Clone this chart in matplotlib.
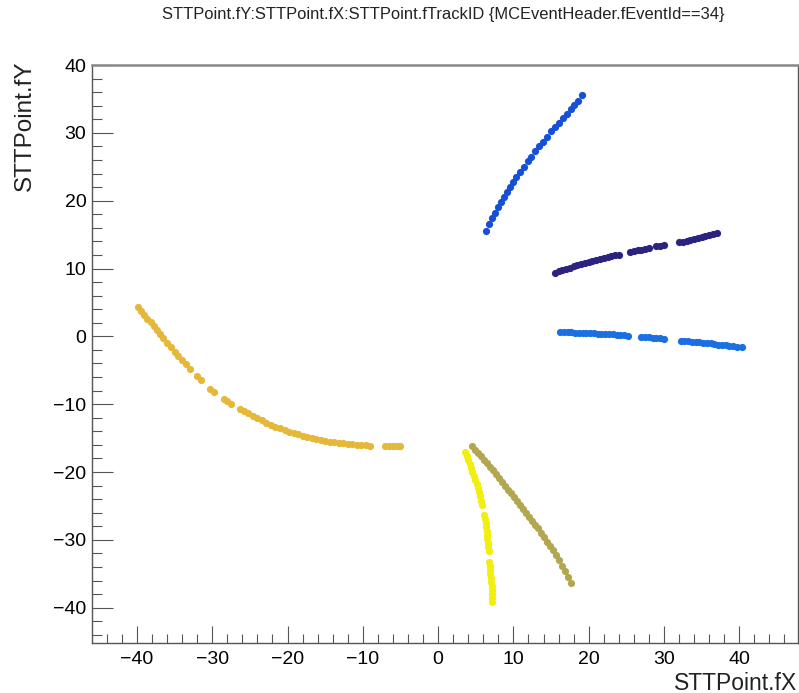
#!/usr/bin/python3

# STT hit positions of event 34, coloured by track id (ROOT-style scatter)

import matplotlib
matplotlib.use('Agg')
import matplotlib.pyplot as plt
from matplotlib.ticker import MultipleLocator

plt.rcParams['font.family'] = ['Liberation Sans', 'DejaVu Sans']

# track 1: steep blue arc, upper right
blue_x = [6.3, 6.7, 7.1, 7.5, 7.9, 8.3, 8.7, 9.1, 9.5, 10.0, 10.4, 10.9, 11.4, 11.9,
          12.4, 12.9, 13.4, 13.9, 14.4, 15.0, 15.5, 16.0, 16.6, 17.1, 17.6, 18.1, 18.6, 19.1]
blue_y = [15.6, 16.5, 17.4, 18.2, 19.0, 19.8, 20.6, 21.3, 22.0, 22.8, 23.5, 24.3, 25.0, 25.8,
          26.5, 27.3, 28.0, 28.7, 29.4, 30.2, 30.9, 31.5, 32.2, 32.8, 33.5, 34.1, 34.7, 35.6]

# track 2: navy, rising slowly
navy_x = [15.5, 16.0, 16.5, 17.0, 17.5, 18.0, 18.5, 19.0, 19.5, 20.0, 20.5, 21.0, 21.5, 22.0,
          22.5, 23.0, 23.5, 24.0, 25.5, 26.0, 26.5, 27.0, 27.5, 28.0, 29.0, 29.5, 30.0, 32.0,
          32.5, 33.0, 33.5, 34.0, 34.5, 35.0, 35.5, 36.0, 36.5, 37.0]
navy_y = [9.4, 9.6, 9.8, 10.0, 10.15, 10.3, 10.5, 10.65, 10.8, 11.0, 11.1, 11.25, 11.4, 11.55,
          11.7, 11.8, 11.95, 12.05, 12.45, 12.55, 12.7, 12.8, 12.9, 13.0, 13.25, 13.35, 13.45, 13.85,
          13.95, 14.05, 14.2, 14.3, 14.45, 14.6, 14.75, 14.9, 15.05, 15.25]

# track 3: light blue, near y = 0
lblue_x = [16.2, 16.7, 17.2, 17.7, 18.2, 18.7, 19.2, 19.7, 20.2, 20.7, 21.2, 21.7, 22.2, 22.7,
           23.2, 23.7, 24.2, 24.7, 25.2, 27.0, 27.5, 28.0, 28.5, 29.0, 29.5, 30.0, 32.2, 32.7,
           33.2, 33.7, 34.2, 34.7, 35.2, 35.7, 36.2, 36.7, 37.2, 37.7, 38.2, 38.7, 39.2, 39.7, 40.3]
lblue_y = [0.6, 0.6, 0.6, 0.6, 0.55, 0.55, 0.5, 0.5, 0.5, 0.45, 0.4, 0.4, 0.35, 0.3,
           0.3, 0.25, 0.2, 0.15, 0.1, -0.05, -0.1, -0.15, -0.2, -0.25, -0.3, -0.35, -0.65, -0.7,
           -0.75, -0.8, -0.85, -0.9, -0.95, -1.0, -1.05, -1.1, -1.2, -1.25, -1.3, -1.4, -1.45, -1.5, -1.6]

# track 4: gold, long curve on the left
gold_x = [-39.8, -39.4, -39.0, -38.6, -38.2, -37.8, -37.4, -37.0, -36.5, -36.0, -35.5, -35.0,
          -34.5, -34.0, -33.5, -33.0, -32.0, -31.5, -30.3, -29.8, -28.5, -28.0, -27.5, -26.3,
          -25.8, -25.3, -24.6, -24.0, -23.4, -22.8, -22.2, -21.6, -21.0, -20.4, -19.8, -19.2,
          -18.6, -18.0, -17.4, -16.8, -16.2, -15.6, -15.0, -14.4, -13.8, -13.2, -12.6, -12.0,
          -11.4, -10.8, -10.2, -9.6, -9.0, -7.0, -6.5, -6.0, -5.5, -5.0]
gold_y = [4.3, 3.74, 3.18, 2.62, 2.06, 1.5, 0.95, 0.41, -0.27, -0.95, -1.62, -2.27,
          -2.9, -3.52, -4.14, -4.76, -5.9, -6.45, -7.7, -8.2, -9.2, -9.55, -9.9, -10.7,
          -11.05, -11.35, -11.8, -12.1, -12.4, -12.7, -13.0, -13.3, -13.55, -13.8, -14.05, -14.25,
          -14.45, -14.65, -14.85, -15.0, -15.15, -15.3, -15.4, -15.5, -15.6, -15.7, -15.75, -15.85,
          -15.9, -15.95, -16.0, -16.05, -16.1, -16.1, -16.1, -16.1, -16.1, -16.1]

# track 5: olive, going down-right
olive_x = [4.5, 4.9, 5.3, 5.7, 6.1, 6.5, 6.9, 7.3, 7.7, 8.1, 8.5, 8.9, 9.3, 9.7, 10.1, 10.5,
           10.9, 11.3, 11.7, 12.1, 12.5, 12.9, 13.3, 13.7, 14.1, 14.5, 14.9, 15.3, 15.7, 16.1,
           16.5, 16.9, 17.3, 17.7]
olive_y = [-16.2, -16.7, -17.2, -17.7, -18.2, -18.7, -19.2, -19.75, -20.3, -20.9, -21.45, -22.0,
           -22.6, -23.15, -23.75, -24.3, -24.9, -25.45, -26.0, -26.6, -27.15, -27.75, -28.3,
           -28.95, -29.6, -30.25, -30.9, -31.55, -32.25, -33.0, -33.8, -34.6, -35.4, -36.3]

# track 6: yellow, nearly vertical
yellow_x = [3.6, 3.8, 4.0, 4.2, 4.4, 4.55, 4.75, 4.9, 5.1, 5.3, 5.45, 5.6, 5.75, 5.85, 6.1,
            6.2, 6.3, 6.35, 6.45, 6.5, 6.55, 6.6, 6.65, 6.7, 6.8, 6.85, 6.9, 6.95, 7.0, 7.05,
            7.1, 7.1, 7.15, 7.2, 7.2]
yellow_y = [-17.0, -17.6, -18.2, -18.8, -19.4, -20.0, -20.6, -21.2, -21.8, -22.4, -23.0, -23.6,
            -24.2, -24.8, -26.3, -26.9, -27.5, -28.1, -28.7, -29.3, -29.9, -30.5, -31.1, -31.7,
            -33.2, -33.8, -34.4, -35.0, -35.6, -36.2, -36.8, -37.4, -38.0, -38.6, -39.2]

tracks = [
    (blue_x, blue_y, '#1550d6'),
    (navy_x, navy_y, '#2b2380'),
    (lblue_x, lblue_y, '#1a6fe3'),
    (gold_x, gold_y, '#e6b83a'),
    (olive_x, olive_y, '#b3a650'),
    (yellow_x, yellow_y, '#f2ee10'),
]

fig = plt.figure(figsize=(7.99, 6.93), dpi=100)
ax = fig.add_axes([92 / 799, 1 - 643 / 693, 706 / 799, 578 / 693])

for xs, ys, col in tracks:
    ax.plot(xs, ys, linestyle='none', marker='o', markersize=5.2,
            markeredgewidth=0, color=col)

ax.set_xlim(-45.97, 47.8)
ax.set_ylim(-45.2, 40)

ax.xaxis.set_major_locator(MultipleLocator(10))
ax.xaxis.set_minor_locator(MultipleLocator(2))
ax.yaxis.set_major_locator(MultipleLocator(10))
ax.yaxis.set_minor_locator(MultipleLocator(2))

ax.tick_params(axis='x', which='major', direction='in', length=12.5, width=0.8,
               color='#555555', labelsize=14, pad=6, top=False)
ax.tick_params(axis='x', which='minor', direction='in', length=6.2, width=0.8,
               color='#555555', top=False)
ax.tick_params(axis='y', which='major', direction='in', length=15, width=0.8,
               color='#555555', labelsize=14, pad=4, right=False)
ax.tick_params(axis='y', which='minor', direction='in', length=7.5, width=0.8,
               color='#555555', right=False)

for s in ax.spines.values():
    s.set_color('#555555')
    s.set_linewidth(1.0)
ax.spines['top'].set_linewidth(1.8)
ax.spines['top'].set_color('#888888')

ax.xaxis.set_major_formatter(matplotlib.ticker.FuncFormatter(
    lambda v, p: format(int(round(v)), 'd').replace('-', '\u2212')))
ax.yaxis.set_major_formatter(matplotlib.ticker.FuncFormatter(
    lambda v, p: format(int(round(v)), 'd').replace('-', '\u2212')))

fig.text(443 / 799, 1 - 15 / 693, 'STTPoint.fY:STTPoint.fX:STTPoint.fTrackID {MCEventHeader.fEventId==34}',
         ha='center', va='center', fontsize=11.9, color='#222222')
fig.text(797 / 799, 1 - 683 / 693, 'STTPoint.fX', ha='right', va='center',
         fontsize=16.5, color='#222222')
fig.text(25 / 799, 1 - 60 / 693, 'STTPoint.fY', ha='center', va='top', rotation=90,
         fontsize=17.5, color='#222222')

fig.savefig('out.png', dpi=100)
